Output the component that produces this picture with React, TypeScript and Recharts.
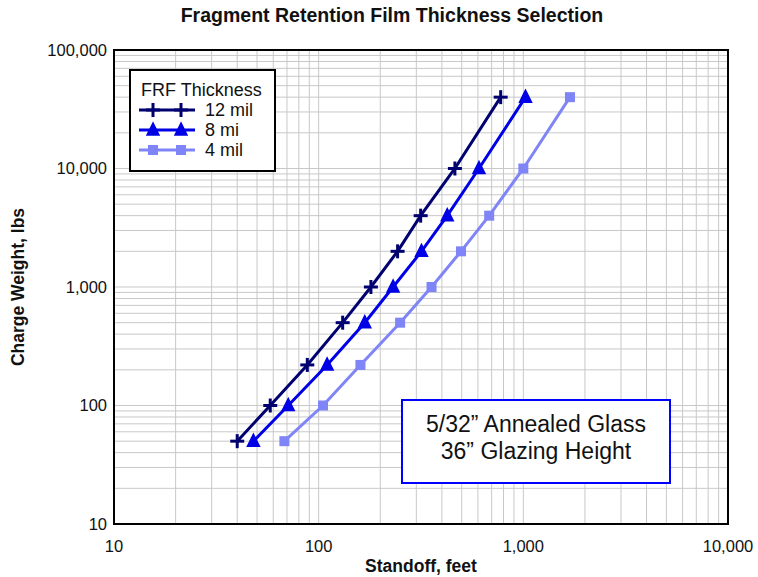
import React from "react";
import {
  CartesianGrid,
  Label,
  Legend,
  ReferenceArea,
  Scatter,
  ScatterChart,
  XAxis,
  YAxis,
} from "recharts";

// charge weight (lbs) shared by all three curves
const chargeWeight = [50, 100, 220, 500, 1000, 2000, 4000, 10000, 40000];
// standoff (feet) per film thickness
const standoff12 = [40, 58, 88, 131, 180, 243, 315, 463, 775];
const standoff8 = [48, 71, 110, 168, 231, 318, 425, 607, 1025];
const standoff4 = [68, 105, 160, 250, 356, 496, 681, 1000, 1690];

const xTicks = [
  10, 20, 30, 40, 50, 60, 70, 80, 90, 100, 200, 300, 400, 500, 600, 700, 800,
  900, 1000, 2000, 3000, 4000, 5000, 6000, 7000, 8000, 9000, 10000,
];
const yTicks = [
  10, 20, 30, 40, 50, 60, 70, 80, 90, 100, 200, 300, 400, 500, 600, 700, 800,
  900, 1000, 2000, 3000, 4000, 5000, 6000, 7000, 8000, 9000, 10000, 20000,
  30000, 40000, 50000, 60000, 70000, 80000, 90000, 100000,
];
const majorLabels: Record<number, string> = {
  10: "10",
  100: "100",
  1000: "1,000",
  10000: "10,000",
  100000: "100,000",
};

const toPoints = (xs: number[]) =>
  xs.map((x, i) => ({ x, y: chargeWeight[i] }));

const FONT = "'Liberation Sans', Arial, sans-serif";
const C12 = "#000070";
const C8 = "#0000e6";
const C4 = "#7f84f6";

const Plus = ({ cx, cy, color }: any) => (
  <g>
    <line x1={cx - 7} y1={cy} x2={cx + 7} y2={cy} stroke={color} strokeWidth={3} />
    <line x1={cx} y1={cy - 7} x2={cx} y2={cy + 7} stroke={color} strokeWidth={3} />
  </g>
);
const Tri = ({ cx, cy, color }: any) => (
  <polygon
    points={`${cx},${cy - 7} ${cx - 6},${cy + 5} ${cx + 6},${cy + 5}`}
    fill={color}
    stroke={color}
    strokeWidth={1.5}
  />
);
const Sq = ({ cx, cy, color }: any) => (
  <rect x={cx - 5} y={cy - 5} width={10} height={10} fill={color} />
);

const series = [
  { name: "12 mil", data: toPoints(standoff12), color: C12, Marker: Plus },
  { name: "8 mi", data: toPoints(standoff8), color: C8, Marker: Tri },
  { name: "4 mil", data: toPoints(standoff4), color: C4, Marker: Sq },
];

const LegendBox = ({ payload }: any) => {
  const names = (payload || []).map((p: any) => p.value);
  const rows = series.filter((s) => names.includes(s.name));
  return (
    <div
      style={{
        width: 143,
        height: 99,
        border: "2px solid #000",
        background: "#fff",
        fontFamily: FONT,
        fontSize: 18,
        color: "#111",
        boxSizing: "content-box",
      }}
    >
      <div style={{ marginLeft: 10, marginTop: 9, lineHeight: "20px" }}>
        FRF Thickness
      </div>
      {rows.map((s) => {
        const M = s.Marker;
        return (
          <div
            key={s.name}
            style={{ display: "flex", alignItems: "center", height: 20 }}
          >
            <svg width={66} height={20} style={{ marginLeft: 8 }}>
              <line x1={0} y1={10} x2={56} y2={10} stroke={s.color} strokeWidth={3} />
              <M cx={14} cy={10} color={s.color} />
              <M cx={42} cy={10} color={s.color} />
            </svg>
            <span>{s.name}</span>
          </div>
        );
      })}
    </div>
  );
};

export default function App() {
  return (
    <div
      style={{
        position: "absolute",
        left: 0,
        top: 0,
        width: 758,
        height: 577,
        background: "#fff",
        fontFamily: FONT,
      }}
    >
      <div
        style={{
          position: "absolute",
          left: 0,
          width: 784,
          top: 4,
          textAlign: "center",
          fontSize: 19.5,
          fontWeight: "bold",
          color: "#111",
        }}
      >
        Fragment Retention Film Thickness Selection
      </div>
      <ScatterChart
        width={758}
        height={577}
        margin={{ top: 50, right: 30, bottom: 0, left: 0 }}
      >
        <CartesianGrid stroke="#c8c8c8" strokeWidth={1} />
        <XAxis
          type="number"
          dataKey="x"
          scale="log"
          domain={[10, 10000]}
          ticks={xTicks}
          interval={0}
          allowDataOverflow
          height={53}
          tickLine={false}
          tickSize={0}
          tickMargin={16}
          axisLine={false}
          tick={{ fontSize: 16.5, fill: "#111", fontFamily: FONT }}
          tickFormatter={(v: number) => majorLabels[v] || ""}
        >
          <Label
            content={({ viewBox }: any) => (
              <text
                x={viewBox.x + viewBox.width / 2}
                y={572}
                textAnchor="middle"
                fontSize={17.5}
                fontWeight="bold"
                fontFamily={FONT}
                fill="#111"
              >
                Standoff, feet
              </text>
            )}
          />
        </XAxis>
        <YAxis
          type="number"
          dataKey="y"
          scale="log"
          domain={[10, 100000]}
          ticks={yTicks}
          interval={0}
          allowDataOverflow
          width={114}
          tickLine={false}
          tickSize={0}
          tickMargin={7}
          axisLine={false}
          tick={{ fontSize: 16.5, fill: "#111", fontFamily: FONT }}
          tickFormatter={(v: number) => majorLabels[v] || ""}
        >
          <Label
            content={({ viewBox }: any) => {
              const cy = viewBox.y + viewBox.height / 2;
              return (
                <text
                  x={24}
                  y={cy}
                  transform={`rotate(-90 24 ${cy})`}
                  textAnchor="middle"
                  fontSize={17.5}
                  fontWeight="bold"
                  fontFamily={FONT}
                  fill="#111"
                >
                  Charge Weight, lbs
                </text>
              );
            }}
          />
        </YAxis>
        <ReferenceArea
          x1={10}
          x2={10000}
          y1={10}
          y2={100000}
          fill="none"
          fillOpacity={0}
          stroke="#000"
          strokeWidth={2}
          strokeOpacity={1}
        />
        {series.map((s) => (
          <Scatter
            key={s.name}
            name={s.name}
            data={s.data}
            fill={s.color}
            line={{ stroke: s.color, strokeWidth: 3 }}
            lineType="joint"
            isAnimationActive={false}
            shape={(p: any) => <s.Marker cx={p.cx} cy={p.cy} color={s.color} />}
          />
        ))}
        <Legend
          layout="vertical"
          align="center"
          verticalAlign="middle"
          wrapperStyle={{ left: 129, top: 69, width: 147, height: 103 }}
          content={LegendBox as any}
        />
      </ScatterChart>
      <div
        style={{
          position: "absolute",
          left: 401,
          top: 399,
          width: 270,
          height: 85,
          border: "2px solid #0000ff",
          background: "#fff",
          fontSize: 23,
          color: "#111",
          textAlign: "center",
          lineHeight: "27px",
          paddingTop: 10,
          boxSizing: "border-box",
        }}
      >
        5/32” Annealed Glass
        <br />
        36” Glazing Height
      </div>
    </div>
  );
}
